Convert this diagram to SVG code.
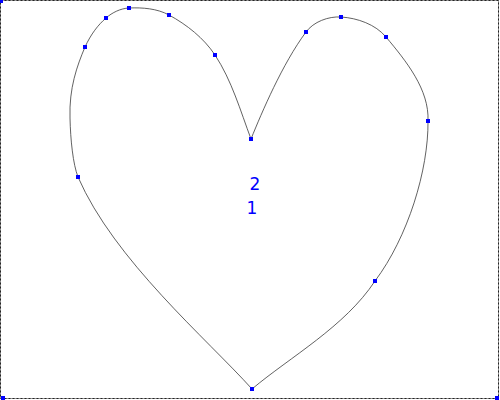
<svg xmlns="http://www.w3.org/2000/svg" width="500" height="400" viewBox="0 0 500 400">
<style>
.pt{fill:#0000ff}
.curve{fill:none;stroke:#3a3a3a;stroke-width:0.8}
.lbl{font-family:"DejaVu Sans",sans-serif;font-size:17px;fill:#0000ff;text-anchor:middle}
</style>
<rect x="0" y="0" width="500" height="400" fill="#ffffff"/>
<g id="frame">
<rect x="0.5" y="0.5" width="498" height="398" fill="none" stroke="#9a9a9a" stroke-width="1"/>
<rect x="0.5" y="0.5" width="498" height="398" fill="none" stroke="#222" stroke-width="1" stroke-dasharray="2 2"/>
<rect class="pt" x="0" y="0" width="3" height="3"/>
<rect class="pt" x="1" y="396" width="4" height="4"/>
<rect class="pt" x="495" y="396" width="4" height="4"/>
</g>
<g id="heart">
<path class="curve" d="M251,139 C240.5,111 231.7,80.3 215,55 C203.8,38.1 186.8,24.7 169,15 C157.1,8.5 142.5,7.4 129,8 C120.7,8.4 112.2,12.5 106,18 C98,25 91,34 85,47 C77,66 69,88 70,118 C70.5,140 73,164 78,177 C114,259.8 207,339 252,389 C290,357 345,326.6 375,281 C408,237 428.5,170 428,121 C429.4,89.7 406.1,61 386,37 C375.5,24.4 357.4,18 341,17 C328.3,16.2 313.5,21.8 306,32 C282.2,64.2 262,112 251,139 Z"/>
</g>
<g id="points">
<rect class="pt" x="249" y="137" width="4" height="4"/>
<rect class="pt" x="213" y="53" width="4" height="4"/>
<rect class="pt" x="167" y="13" width="4" height="4"/>
<rect class="pt" x="127" y="6" width="4" height="4"/>
<rect class="pt" x="104" y="16" width="4" height="4"/>
<rect class="pt" x="83" y="45" width="4" height="4"/>
<rect class="pt" x="76" y="175" width="4" height="4"/>
<rect class="pt" x="250" y="387" width="4" height="4"/>
<rect class="pt" x="373" y="279" width="4" height="4"/>
<rect class="pt" x="426" y="119" width="4" height="4"/>
<rect class="pt" x="384" y="35" width="4" height="4"/>
<rect class="pt" x="339" y="15" width="4" height="4"/>
<rect class="pt" x="304" y="30" width="4" height="4"/>
</g>
<g id="labels">
<text class="lbl" x="255" y="190">2</text>
<text class="lbl" x="252" y="214">1</text>
</g>
</svg>
